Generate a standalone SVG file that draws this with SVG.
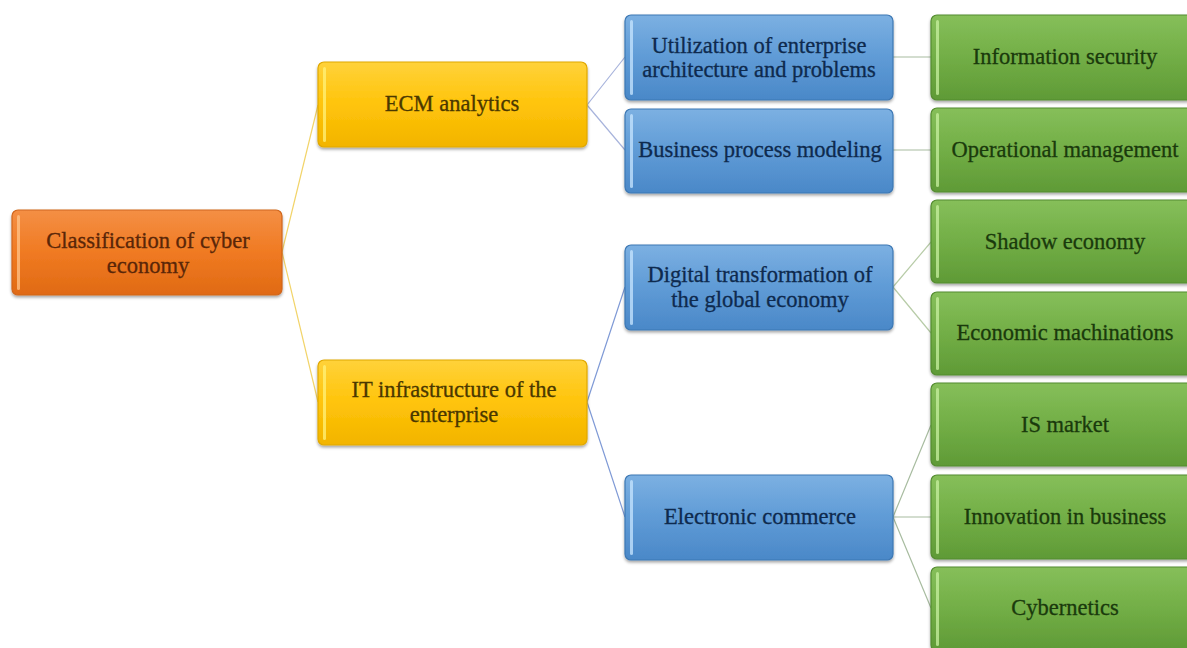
<svg xmlns="http://www.w3.org/2000/svg" width="1187" height="648" viewBox="0 0 1187 648">
<defs>
<linearGradient id="gO" x1="0" y1="0" x2="0" y2="1"><stop offset="0" stop-color="#f48f45"/><stop offset="0.5" stop-color="#f07a22"/><stop offset="1" stop-color="#e06a14"/></linearGradient>
<linearGradient id="gY" x1="0" y1="0" x2="0" y2="1"><stop offset="0" stop-color="#ffd23a"/><stop offset="0.5" stop-color="#ffc40a"/><stop offset="1" stop-color="#f2b400"/></linearGradient>
<linearGradient id="gB" x1="0" y1="0" x2="0" y2="1"><stop offset="0" stop-color="#7cb0e2"/><stop offset="0.5" stop-color="#5f9bd6"/><stop offset="1" stop-color="#4a88c8"/></linearGradient>
<linearGradient id="gG" x1="0" y1="0" x2="0" y2="1"><stop offset="0" stop-color="#86bf5a"/><stop offset="0.5" stop-color="#72ae46"/><stop offset="1" stop-color="#5f9a36"/></linearGradient>
<filter id="sh" x="-5%" y="-10%" width="110%" height="125%"><feDropShadow dx="0" dy="2" stdDeviation="1.5" flood-color="#000" flood-opacity="0.35"/></filter>
</defs>
<style>
.box{filter:url(#sh);stroke-width:1.2}
.o{fill:url(#gO);stroke:#d0661c}
.y{fill:url(#gY);stroke:#e0a800}
.b{fill:url(#gB);stroke:#3d78b4}
.g{fill:url(#gG);stroke:#548c30}
.hl{opacity:0.75}
text{font-family:"Liberation Serif","Times New Roman",serif;font-size:22.5px;text-anchor:middle;stroke-width:0.3}
.to{fill:#5a2608;stroke:#5a2608}
.ty{fill:#4a3800;stroke:#4a3800}
.tb{fill:#0e2a4e;stroke:#0e2a4e}
.tg{fill:#1a3a0c;stroke:#1a3a0c}
.c{fill:none;stroke-width:1.2}
</style>
<rect width="1187" height="648" fill="#ffffff"/>
<g id="connectors">
<path class="c" stroke="#f2d46a" d="M282 252 L318 105 M282 252 L318 402"/>
<path class="c" stroke="#a8b4dc" d="M587 105 L625 57 M587 105 L625 150"/>
<path class="c" stroke="#7f9ad6" d="M587 402 L625 287 M587 402 L625 517"/>
<path class="c" stroke="#a8bca0" d="M893 57 L931 57 M893 150 L931 150"/>
<path class="c" stroke="#b8cca8" d="M893 287 L931 242 M893 287 L931 333"/>
<path class="c" stroke="#a8bca0" d="M893 517 L931 425 M893 517 L931 517 M893 517 L931 608"/>
</g>
<g id="root">
<rect class="box o" x="12" y="210" width="270" height="85" rx="6"/>
<rect class="hl" x="17" y="215" width="3" height="75" rx="1.5" fill="#ffc48a"/>
<text class="to" x="148" y="248">Classification of cyber</text>
<text class="to" x="148" y="273">economy</text>
</g>
<g id="ecm">
<rect class="box y" x="318" y="62" width="269" height="85" rx="6"/>
<rect class="hl" x="323" y="67" width="3" height="75" rx="1.5" fill="#fff27a"/>
<text class="ty" x="452" y="111">ECM analytics</text>
</g>
<g id="itinfra">
<rect class="box y" x="318" y="360" width="269" height="85" rx="6"/>
<rect class="hl" x="323" y="365" width="3" height="75" rx="1.5" fill="#fff27a"/>
<text class="ty" x="454" y="397">IT infrastructure of the</text>
<text class="ty" x="454" y="422">enterprise</text>
</g>
<g id="utilization">
<rect class="box b" x="625" y="15" width="268" height="85" rx="6"/>
<rect class="hl" x="630" y="20" width="3" height="75" rx="1.5" fill="#c8e6ff"/>
<text class="tb" x="759" y="53">Utilization of enterprise</text>
<text class="tb" x="759" y="77">architecture and problems</text>
</g>
<g id="bpm">
<rect class="box b" x="625" y="109" width="268" height="84" rx="6"/>
<rect class="hl" x="630" y="114" width="3" height="74" rx="1.5" fill="#c8e6ff"/>
<text class="tb" x="760" y="157">Business process modeling</text>
</g>
<g id="digital">
<rect class="box b" x="625" y="245" width="268" height="85" rx="6"/>
<rect class="hl" x="630" y="250" width="3" height="75" rx="1.5" fill="#c8e6ff"/>
<text class="tb" x="760" y="282">Digital transformation of</text>
<text class="tb" x="760" y="307">the global economy</text>
</g>
<g id="ecommerce">
<rect class="box b" x="625" y="475" width="268" height="85" rx="6"/>
<rect class="hl" x="630" y="480" width="3" height="75" rx="1.5" fill="#c8e6ff"/>
<text class="tb" x="760" y="524">Electronic commerce</text>
</g>
<g id="infosec">
<rect class="box g" x="931" y="15" width="262" height="85" rx="6"/>
<rect class="hl" x="936" y="20" width="3" height="75" rx="1.5" fill="#c8f0a0"/>
<text class="tg" x="1065" y="64">Information security</text>
</g>
<g id="opmgmt">
<rect class="box g" x="931" y="108" width="262" height="84" rx="6"/>
<rect class="hl" x="936" y="113" width="3" height="74" rx="1.5" fill="#c8f0a0"/>
<text class="tg" x="1065" y="157">Operational management</text>
</g>
<g id="shadow">
<rect class="box g" x="931" y="200" width="262" height="83" rx="6"/>
<rect class="hl" x="936" y="205" width="3" height="73" rx="1.5" fill="#c8f0a0"/>
<text class="tg" x="1065" y="249">Shadow economy</text>
</g>
<g id="machinations">
<rect class="box g" x="931" y="292" width="262" height="83" rx="6"/>
<rect class="hl" x="936" y="297" width="3" height="73" rx="1.5" fill="#c8f0a0"/>
<text class="tg" x="1065" y="340">Economic machinations</text>
</g>
<g id="ismarket">
<rect class="box g" x="931" y="383" width="262" height="83" rx="6"/>
<rect class="hl" x="936" y="388" width="3" height="73" rx="1.5" fill="#c8f0a0"/>
<text class="tg" x="1065" y="432">IS market</text>
</g>
<g id="innovation">
<rect class="box g" x="931" y="475" width="262" height="84" rx="6"/>
<rect class="hl" x="936" y="480" width="3" height="74" rx="1.5" fill="#c8f0a0"/>
<text class="tg" x="1065" y="524">Innovation in business</text>
</g>
<g id="cybernetics">
<rect class="box g" x="931" y="567" width="262" height="84" rx="6"/>
<rect class="hl" x="936" y="572" width="3" height="74" rx="1.5" fill="#c8f0a0"/>
<text class="tg" x="1065" y="615">Cybernetics</text>
</g>
</svg>
